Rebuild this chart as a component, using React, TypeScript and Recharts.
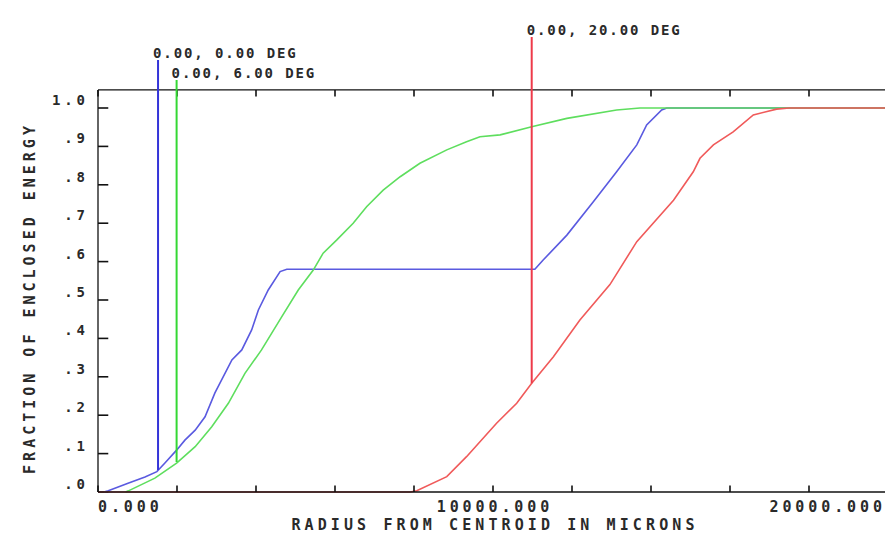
import React from 'react'
import { LineChart, Line, XAxis, YAxis, ReferenceLine } from 'recharts'

// encircled energy curves (radius in microns, fraction)
const blueRadius = [150, 260, 760, 1190, 1490, 1700, 1990, 2200, 2460, 2710, 2960, 3390, 3640, 3890, 4060, 4310, 4610, 4780, 11060, 11270, 11870, 12540, 13130, 13640, 13890, 14270, 14400, 20000]
const blueEnergy = [0, 0.003, 0.023, 0.039, 0.053, 0.076, 0.109, 0.135, 0.161, 0.196, 0.258, 0.344, 0.37, 0.422, 0.474, 0.526, 0.574, 0.58, 0.58, 0.604, 0.669, 0.756, 0.834, 0.904, 0.956, 0.995, 1.0, 1.0]

const greenRadius = [700, 770, 1440, 1990, 2460, 2880, 3300, 3720, 4140, 4650, 5070, 5450, 5700, 6040, 6460, 6800, 7220, 7650, 8150, 8830, 9330, 9670, 10180, 10980, 11870, 13130, 13720, 20000]
const greenEnergy = [0, 0.003, 0.036, 0.075, 0.118, 0.17, 0.231, 0.309, 0.37, 0.456, 0.526, 0.578, 0.622, 0.656, 0.7, 0.743, 0.786, 0.821, 0.856, 0.891, 0.912, 0.925, 0.93, 0.951, 0.973, 0.995, 1.0, 1.0]

const redRadius = [0, 7900, 8070, 8830, 9330, 10090, 10600, 10980, 11530, 12200, 12960, 13640, 14570, 15070, 15240, 15580, 16080, 16590, 17180, 17500, 20000]
const redEnergy = [0, 0, 0.003, 0.04, 0.092, 0.179, 0.231, 0.283, 0.352, 0.448, 0.54, 0.652, 0.76, 0.834, 0.869, 0.904, 0.938, 0.982, 0.997, 1.0, 1.0]

// field markers (vertical lines with their labels)
const fieldLabels = ['0.00, 0.00 DEG', '0.00, 6.00 DEG', '0.00, 20.00 DEG']
const fieldRadius = [1520, 1990, 10980]
const fieldBottom = [0.057, 0.078, 0.283]
const fieldTop = [1.125, 1.073, 1.185]

// axes
const radiusTicks = [0, 2000, 4000, 6000, 8000, 10000, 12000, 14000, 16000, 18000, 20000]
const radiusLabelValues = [0, 10000, 20000]
const radiusLabelText = ['0.000', '10000.000', '20000.000']
const energyTicks = [0, 0.1, 0.2, 0.3, 0.4, 0.5, 0.6, 0.7, 0.8, 0.9, 1.0]
const energyLabels = ['.0', '.1', '.2', '.3', '.4', '.5', '.6', '.7', '.8', '.9', '1.0']

const FRAME_TOP = 1.047
const BLUE = '#3434d8'
const GREEN = '#34d834'
const RED = '#ee3a4a'
const COLORS = [BLUE, GREEN, RED]
const CURVE_COLORS = ['#5a5ae0', '#5ede5e', '#f05a5a']
const MONO = '"DejaVu Sans Mono", monospace'
const INK = '#2a2a2a'
const FRAME = '#111'

const toPoints = (xs: number[], ys: number[]) => xs.map((r, i) => ({ r, e: ys[i] }))

function RadiusTick({ x, y, payload }: any) {
  const i = radiusLabelValues.indexOf(payload.value)
  if (i < 0) return <g />
  const ls = 3.9
  const anchor = i === 0 ? 'start' : i === radiusLabelValues.length - 1 ? 'end' : 'middle'
  const dx = anchor === 'end' ? ls - 6 : anchor === 'middle' ? ls / 2 : 0
  return (
    <text x={x + dx} y={y + 14} textAnchor={anchor} fontFamily={MONO} fontSize={15} fontWeight="bold" fill={INK} style={{ letterSpacing: ls }}>
      {radiusLabelText[i]}
    </text>
  )
}

function EnergyTick({ x, y, index }: any) {
  const ls = 3.9
  return (
    <text x={x + ls} y={y - 3} textAnchor="end" fontFamily={MONO} fontSize={14} fontWeight="bold" fill={INK} style={{ letterSpacing: ls }}>
      {energyLabels[index]}
    </text>
  )
}

export default function App() {
  const series = [
    toPoints(blueRadius, blueEnergy),
    toPoints(greenRadius, greenEnergy),
    toPoints(redRadius, redEnergy),
  ]

  return (
    <div style={{ position: 'absolute', left: 0, top: 0, width: 885, height: 555, overflow: 'hidden', background: '#fff' }}>
      <LineChart width={905} height={555} margin={{ top: 0, right: 17, bottom: 0, left: 0 }}>
        <XAxis
          type="number"
          dataKey="r"
          domain={[0, 20000]}
          ticks={radiusTicks}
          interval={0}
          height={63}
          tickSize={0}
          tickMargin={6}
          axisLine={{ stroke: FRAME, strokeWidth: 1.3 }}
          tickLine={false}
          tick={<RadiusTick />}
          label={(p: any) => {
            const vb = p.viewBox
            return (
              <text x={vb.x + vb.width / 2 + 2} y={vb.y + 38} textAnchor="middle" fontFamily={MONO} fontSize={15} fontWeight="bold" fill={INK} style={{ letterSpacing: 4.1 }}>
                RADIUS FROM CENTROID IN MICRONS
              </text>
            )
          }}
        />
        <YAxis
          type="number"
          domain={[0, 1.28125]}
          ticks={energyTicks}
          interval={0}
          width={98}
          tickSize={0}
          tickMargin={13}
          axisLine={false}
          tickLine={false}
          tick={<EnergyTick />}
          label={(p: any) => {
            const vb = p.viewBox
            const cx = vb.x + 35
            const cy = vb.y + 298
            return (
              <text x={cx} y={cy} transform={`rotate(-90, ${cx}, ${cy})`} textAnchor="middle" fontFamily={MONO} fontSize={15} fontWeight="bold" fill={INK} style={{ letterSpacing: 4.0 }}>
                FRACTION OF ENCLOSED ENERGY
              </text>
            )
          }}
        />

        {/* frame */}
        <ReferenceLine ifOverflow="visible" stroke={FRAME} strokeWidth={1.3} segment={[{ x: 0, y: 0 }, { x: 0, y: FRAME_TOP }]} />
        <ReferenceLine ifOverflow="visible" stroke={FRAME} strokeWidth={1.3} segment={[{ x: 0, y: FRAME_TOP }, { x: 20000, y: FRAME_TOP }]} />
        <ReferenceLine ifOverflow="visible" stroke={FRAME} strokeWidth={1.3} segment={[{ x: 20000, y: 0 }, { x: 20000, y: FRAME_TOP }]} />
        {energyTicks.map((v) => (
          <ReferenceLine key={`yt-${v}`} ifOverflow="visible" stroke={FRAME} strokeWidth={1.6} segment={[{ x: 0, y: v }, { x: 260, y: v }]} />
        ))}
        {radiusTicks.map((v) => (
          <ReferenceLine key={`tt-${v}`} ifOverflow="visible" stroke={FRAME} strokeWidth={1.6} segment={[{ x: v, y: FRAME_TOP }, { x: v, y: FRAME_TOP - 0.017 }]} />
        ))}

        {series.map((data, i) => (
          <Line
            key={`curve-${i}`}
            data={data}
            dataKey="e"
            type="linear"
            stroke={CURVE_COLORS[i]}
            strokeWidth={1.6}
            dot={false}
            isAnimationActive={false}
          />
        ))}

        {radiusTicks.map((v) => (
          <ReferenceLine key={`bt-${v}`} ifOverflow="visible" stroke={FRAME} strokeWidth={1.6} segment={[{ x: v, y: 0 }, { x: v, y: 0.017 }]} />
        ))}

        {fieldLabels.map((label, i) => (
          <ReferenceLine
            key={`field-${i}`}
            ifOverflow="visible"
            stroke={COLORS[i]}
            strokeWidth={2}
            segment={[{ x: fieldRadius[i], y: fieldBottom[i] }, { x: fieldRadius[i], y: fieldTop[i] }]}
            label={(p: any) => (
              <text x={p.viewBox.x - 5} y={p.viewBox.y - 2} fontFamily={MONO} fontSize={14} fontWeight="bold" fill={INK} style={{ letterSpacing: 1.9 }}>
                {label}
              </text>
            )}
          />
        ))}
      </LineChart>
    </div>
  )
}
